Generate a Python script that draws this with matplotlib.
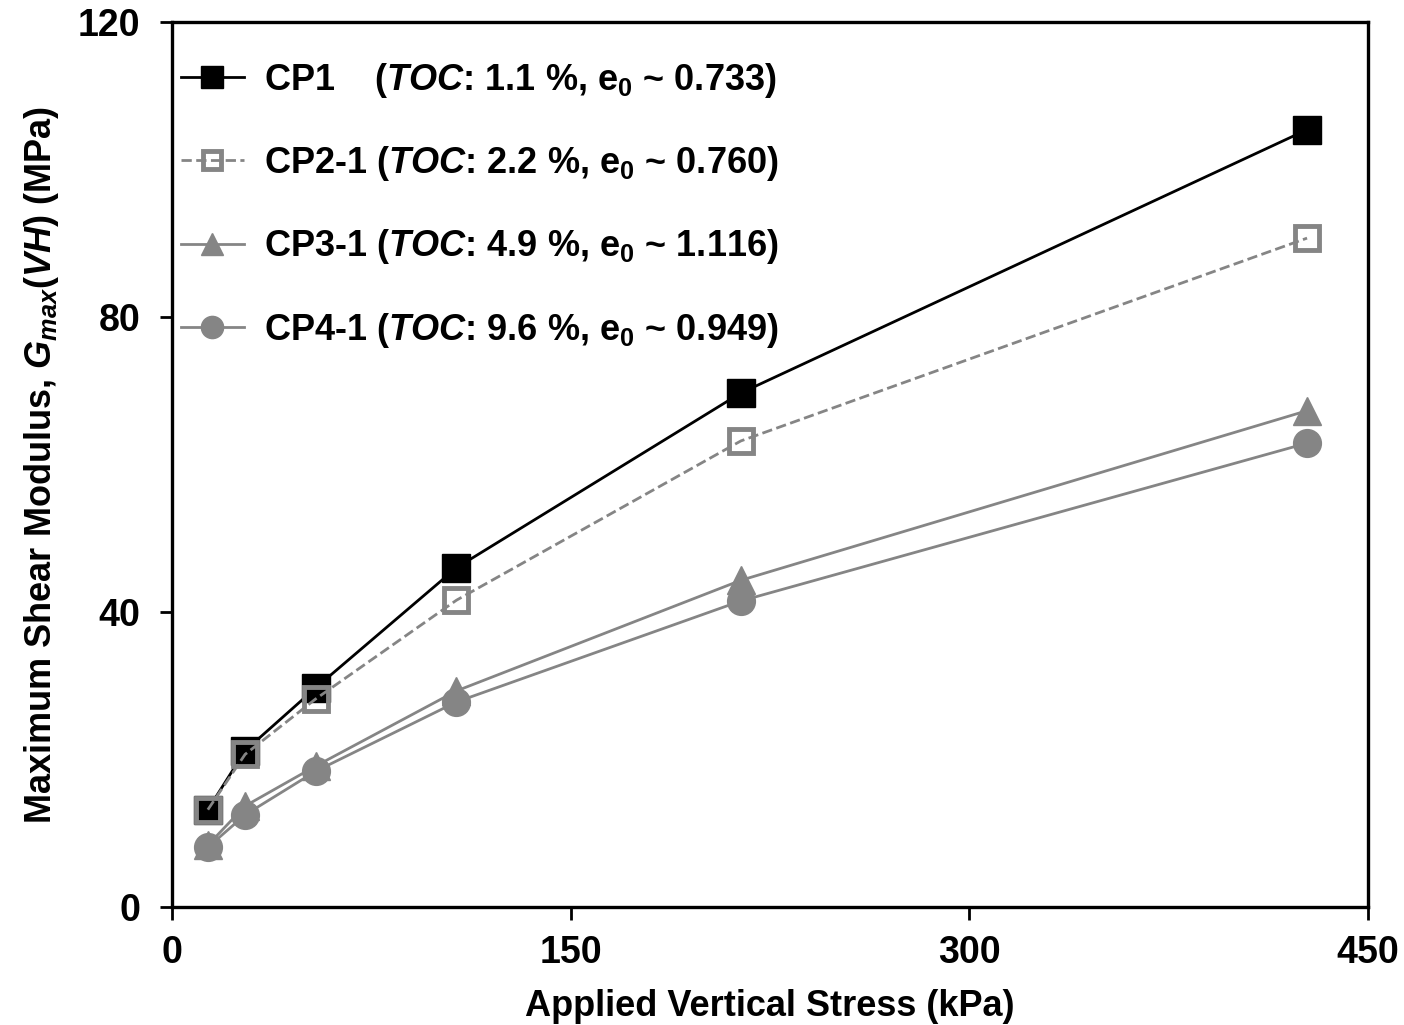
import matplotlib
matplotlib.use("Agg")
import matplotlib.pyplot as plt

plt.rcParams["font.family"] = ["Liberation Sans", "DejaVu Sans"]
plt.rcParams["font.weight"] = "bold"
plt.rcParams["mathtext.fontset"] = "custom"
plt.rcParams["mathtext.rm"] = "Liberation Sans:bold"
plt.rcParams["mathtext.it"] = "Liberation Sans:bold:italic"
plt.rcParams["mathtext.bf"] = "Liberation Sans:bold"

# applied vertical stress steps (kPa)
stress = [13.5, 27.5, 54, 107, 214, 427]

# Gmax(VH) in MPa for each specimen
g_cp1 = [13.2, 21.2, 29.7, 46.0, 69.7, 105.4]
g_cp2 = [13.2, 20.7, 28.2, 41.6, 63.2, 90.7]
g_cp3 = [8.4, 13.7, 19.1, 29.3, 44.3, 67.3]
g_cp4 = [8.1, 12.5, 18.4, 27.8, 41.5, 62.9]

labels = [
    r"CP1    ($TOC$: 1.1 %, e$_{\mathit{0}}$ ~ 0.733)",
    r"CP2-1 ($TOC$: 2.2 %, e$_{\mathit{0}}$ ~ 0.760)",
    r"CP3-1 ($TOC$: 4.9 %, e$_{\mathit{0}}$ ~ 1.116)",
    r"CP4-1 ($TOC$: 9.6 %, e$_{\mathit{0}}$ ~ 0.949)",
]

gray = "#858585"

fig = plt.figure(figsize=(14.04, 10.25), dpi=100)
ax = fig.add_axes([0.1225, 0.1151, 0.852, 0.8634])

ax.plot(stress, g_cp4, "-o", color=gray, lw=2, ms=20, label=labels[3], zorder=2)
ax.plot(stress, g_cp3, "-^", color=gray, lw=2, ms=20, label=labels[2], zorder=2)
ax.plot(stress, g_cp1, "-s", color="black", lw=2, ms=20, label=labels[0], zorder=3)
ax.plot(stress, g_cp2, "--s", color=gray, lw=2, ms=17, mfc="none", mew=3.5,
        label=labels[1], zorder=4)

ax.set_xlim(0, 450)
ax.set_ylim(0, 120)
ax.set_xticks([0, 150, 300, 450])
ax.set_yticks([0, 40, 80, 120])
ax.tick_params(direction="out", length=9, width=2, labelsize=27)
ax.tick_params(axis="x", pad=11)
ax.tick_params(axis="y", pad=14)
for s in ax.spines.values():
    s.set_linewidth(2.4)

ax.set_xlabel("Applied Vertical Stress (kPa)", fontsize=26, fontweight="bold", labelpad=13)
ax.set_ylabel(r"Maximum Shear Modulus, $G_{max}(VH)$ (MPa)", fontsize=26,
              fontweight="bold", labelpad=12)

handles, labs = ax.get_legend_handles_labels()
order = [labs.index(l) for l in labels]
ax.legend([handles[i] for i in order], [labs[i] for i in order],
          loc="upper left", bbox_to_anchor=(-0.014, 0.985), frameon=False,
          fontsize=26, handlelength=1.75, handletextpad=0.55, labelspacing=1.23,
          borderaxespad=0.3, markerscale=0.8)

fig.savefig("out.png", dpi=100)
